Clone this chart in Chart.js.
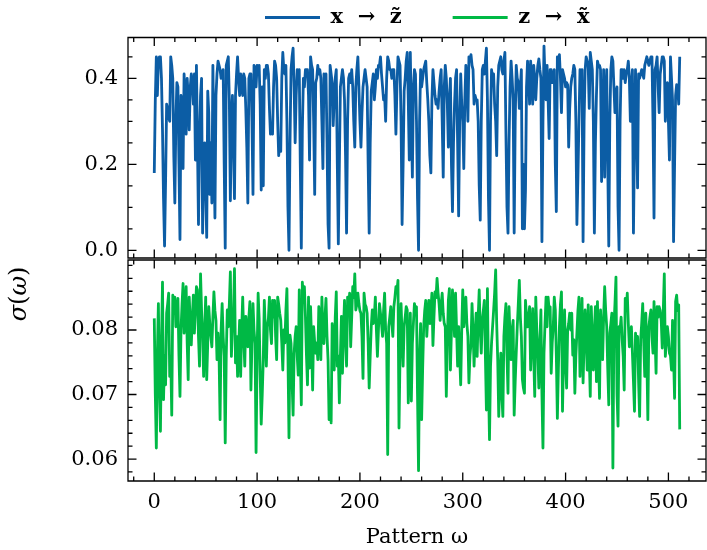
<!DOCTYPE html>
<html>
<head>
<meta charset="utf-8">
<script src="https://cdn.jsdelivr.net/npm/chart.js@4.4.1/dist/chart.umd.min.js"></script>
<style>
  html, body { margin: 0; padding: 0; background: #fff; }
  #wrap { width: 707px; height: 550px; }
</style>
</head>
<body>
<div id="wrap"><canvas id="c" width="707" height="550"></canvas></div>
<script>
// ---------- data ----------
const patternIds = Array.from({length: 512}, (_, i) => i);

const sigmaXtoZ = [
0.18,0.35,0.45,0.36,0.44,0.45,0.45,0.40,0.28,0.12,
0.01,0.16,0.34,0.33,0.31,0.30,0.45,0.43,0.40,0.22,
0.11,0.30,0.39,0.38,0.20,0.025,0.36,0.33,0.19,0.41,
0.35,0.27,0.40,0.36,0.28,0.38,0.41,0.39,0.34,0.41,
0.21,0.43,0.25,0.06,0.25,0.36,0.40,0.04,0.20,0.25,
0.14,0.03,0.37,0.32,0.13,0.25,0.11,0.43,0.24,0.075,
0.36,0.41,0.44,0.43,0.42,0.40,0.41,0.42,0.20,0.005,
0.43,0.44,0.45,0.35,0.115,0.30,0.36,0.25,0.12,0.36,
0.41,0.45,0.40,0.36,0.41,0.39,0.36,0.41,0.40,0.33,
0.24,0.11,0.40,0.41,0.41,0.30,0.13,0.43,0.42,0.38,
0.43,0.42,0.43,0.34,0.14,0.38,0.15,0.42,0.40,0.43,
0.43,0.41,0.33,0.27,0.28,0.27,0.38,0.44,0.43,0.40,
0.30,0.22,0.25,0.23,0.40,0.46,0.42,0.41,0.43,0.30,
0.10,0.0,0.25,0.42,0.45,0.47,0.38,0.25,0.36,0.42,
0.41,0.42,0.20,0.005,0.28,0.40,0.38,0.42,0.42,0.42,
0.36,0.21,0.45,0.43,0.42,0.30,0.13,0.39,0.40,0.43,
0.41,0.42,0.40,0.30,0.19,0.41,0.40,0.41,0.25,0.06,
0.005,0.43,0.41,0.39,0.29,0.35,0.40,0.42,0.20,0.015,
0.20,0.38,0.40,0.42,0.40,0.35,0.22,0.04,0.30,0.40,
0.41,0.39,0.42,0.38,0.30,0.24,0.38,0.42,0.45,0.38,
0.30,0.24,0.32,0.38,0.40,0.42,0.40,0.38,0.20,0.04,
0.25,0.37,0.39,0.41,0.35,0.38,0.42,0.40,0.43,0.43,
0.45,0.41,0.38,0.35,0.36,0.30,0.40,0.45,0.44,0.42,
0.42,0.40,0.42,0.42,0.36,0.27,0.38,0.45,0.44,0.43,
0.30,0.06,0.20,0.37,0.40,0.44,0.46,0.35,0.21,0.46,
0.30,0.17,0.38,0.42,0.41,0.30,0.12,0.0,0.30,0.42,
0.38,0.40,0.42,0.43,0.44,0.39,0.35,0.30,0.22,0.18,
0.35,0.42,0.39,0.36,0.34,0.35,0.33,0.37,0.40,0.42,
0.30,0.17,0.38,0.43,0.40,0.34,0.24,0.35,0.40,0.20,
0.09,0.25,0.34,0.40,0.42,0.25,0.08,0.30,0.41,0.34,
0.30,0.19,0.35,0.43,0.38,0.30,0.45,0.44,0.455,0.43,
0.42,0.34,0.36,0.35,0.35,0.30,0.15,0.07,0.30,0.42,
0.43,0.41,0.44,0.47,0.35,0.12,0.0,0.30,0.42,0.40,
0.41,0.34,0.30,0.22,0.38,0.43,0.44,0.45,0.42,0.41,
0.44,0.46,0.27,0.10,0.04,0.25,0.38,0.44,0.40,0.35,
0.04,0.30,0.43,0.40,0.39,0.33,0.38,0.42,0.05,0.20,
0.05,0.14,0.38,0.44,0.40,0.34,0.44,0.40,0.34,0.43,
0.40,0.35,0.40,0.43,0.445,0.42,0.40,0.02,0.30,0.475,
0.40,0.35,0.43,0.35,0.26,0.42,0.42,0.39,0.40,0.42,
0.20,0.09,0.45,0.44,0.455,0.40,0.32,0.42,0.41,0.40,
0.38,0.39,0.385,0.24,0.33,0.38,0.40,0.41,0.43,0.42,
0.30,0.06,0.17,0.30,0.42,0.41,0.42,0.02,0.30,0.42,
0.45,0.44,0.43,0.33,0.46,0.44,0.42,0.30,0.04,0.25,
0.36,0.44,0.43,0.43,0.42,0.16,0.30,0.42,0.17,0.35,
0.42,0.20,0.01,0.30,0.42,0.45,0.44,0.38,0.32,0.36,
0.38,0.10,0.0,0.30,0.42,0.42,0.40,0.42,0.39,0.41,
0.42,0.44,0.40,0.30,0.38,0.42,0.04,0.25,0.42,0.30,
0.145,0.41,0.40,0.41,0.42,0.41,0.40,0.43,0.44,0.45,
0.44,0.43,0.44,0.45,0.45,0.30,0.075,0.42,0.43,0.45,
0.38,0.32,0.41,0.43,0.45,0.45,0.44,0.30,0.36,0.39,
0.30,0.21,0.45,0.40,0.35,0.02,0.20,0.36,0.385,0.38,
0.34,0.45
];

const sigmaZtoX = [
0.0818,0.0700,0.0617,0.0760,0.0841,0.0715,0.0643,0.0780,0.0874,0.0692,
0.0760,0.0715,0.0826,0.0840,0.0857,0.0728,0.0760,0.0668,0.0854,0.0830,
0.0851,0.0805,0.0830,0.0849,0.0760,0.0697,0.0800,0.0840,0.0872,0.0795,
0.0830,0.0867,0.0780,0.0723,0.0851,0.0810,0.0777,0.0820,0.0854,0.0795,
0.0830,0.0867,0.0862,0.0790,0.0744,0.0887,0.0830,0.0790,0.0728,0.0800,
0.0851,0.0723,0.0780,0.0836,0.0810,0.0790,0.0774,0.0820,0.0859,0.0830,
0.0815,0.0754,0.0795,0.0760,0.0661,0.0800,0.0841,0.0790,0.0759,0.0625,
0.0760,0.0831,0.0805,0.0840,0.0890,0.0759,0.0800,0.0823,0.0895,0.0749,
0.0790,0.0728,0.0770,0.0815,0.0728,0.0800,0.0851,0.0790,0.0744,0.0821,
0.0800,0.0774,0.0820,0.0844,0.0707,0.0780,0.0841,0.0800,0.0779,0.0610,
0.0760,0.0857,0.0818,0.0730,0.0654,0.0700,0.0754,0.0846,0.0800,0.0744,
0.0805,0.0818,0.0851,0.0800,0.0779,0.0846,0.0820,0.0846,0.0790,0.0754,
0.0851,0.0840,0.0826,0.0815,0.0780,0.0738,0.0800,0.0780,0.0830,0.0864,
0.0760,0.0633,0.0792,0.0779,0.0720,0.0668,0.0764,0.0790,0.0805,0.0760,
0.0730,0.0862,0.0760,0.0684,0.0874,0.0850,0.0867,0.0821,0.0760,0.0715,
0.0851,0.0741,0.0836,0.0780,0.0707,0.0805,0.0780,0.0764,0.0780,0.0754,
0.0836,0.0800,0.0754,0.0851,0.0800,0.0779,0.0820,0.0849,0.0790,0.0754,
0.0661,0.0700,0.0656,0.0810,0.0780,0.0738,0.0820,0.0859,0.0744,0.0760,
0.0687,0.0760,0.0821,0.0733,0.0800,0.0846,0.0790,0.0744,0.0851,0.0830,
0.0857,0.0774,0.0820,0.0867,0.0850,0.0887,0.0831,0.0840,0.0857,0.0841,
0.0830,0.0826,0.0790,0.0725,0.0857,0.0840,0.0836,0.0826,0.0780,0.0710,
0.0760,0.0805,0.0831,0.0810,0.0821,0.0851,0.0800,0.0759,0.0800,0.0841,
0.0826,0.0810,0.0790,0.0830,0.0857,0.0800,0.0779,0.0607,0.0805,0.0820,
0.0836,0.0810,0.0790,0.0836,0.0850,0.0867,0.0860,0.0877,0.0648,0.0760,
0.0841,0.0790,0.0744,0.0805,0.0820,0.0836,0.0831,0.0687,0.0754,0.0826,
0.0690,0.0779,0.0810,0.0841,0.0830,0.0836,0.0700,0.0582,0.0760,0.0810,
0.0661,0.0740,0.0805,0.0830,0.0846,0.0790,0.0820,0.0846,0.0810,0.0830,
0.0857,0.0776,0.0820,0.0859,0.0850,0.0880,0.0857,0.0840,0.0815,0.0840,
0.0857,0.0826,0.0810,0.0805,0.0697,0.0780,0.0846,0.0864,0.0738,0.0800,
0.0862,0.0830,0.0790,0.0857,0.0800,0.0744,0.0805,0.0760,0.0715,0.0800,
0.0862,0.0805,0.0830,0.0851,0.0810,0.0790,0.0718,0.0760,0.0779,0.0841,
0.0800,0.0744,0.0790,0.0826,0.0759,0.0820,0.0862,0.0800,0.0764,0.0815,
0.0830,0.0846,0.0760,0.0676,0.0864,0.0720,0.0630,0.0744,0.0780,0.0805,
0.0830,0.0857,0.0893,0.0810,0.0754,0.0666,0.0720,0.0764,0.0700,0.0666,
0.0790,0.0820,0.0841,0.0760,0.0702,0.0836,0.0790,0.0754,0.0800,0.0815,
0.0668,0.0720,0.0764,0.0805,0.0840,0.0877,0.0820,0.0790,0.0723,0.0710,
0.0702,0.0846,0.0820,0.0805,0.0820,0.0836,0.0738,0.0790,0.0833,0.0760,
0.0697,0.0851,0.0800,0.0764,0.0710,0.0780,0.0831,0.0700,0.0617,0.0764,
0.0810,0.0851,0.0805,0.0851,0.0831,0.0836,0.0733,0.0780,0.0805,0.0851,
0.0831,0.0760,0.0663,0.0740,0.0805,0.0840,0.0859,0.0674,0.0760,0.0831,
0.0750,0.0710,0.0800,0.0810,0.0826,0.0800,0.0826,0.0761,0.0785,0.0702,
0.0760,0.0795,0.0830,0.0851,0.0728,0.0800,0.0849,0.0718,0.0780,0.0831,
0.0790,0.0738,0.0839,0.0760,0.0697,0.0836,0.0780,0.0738,0.0800,0.0836,
0.0720,0.0844,0.0760,0.0694,0.0831,0.0790,0.0754,0.0820,0.0867,0.0830,
0.0805,0.0740,0.0684,0.0795,0.0810,0.0826,0.0586,0.0805,0.0840,0.0882,
0.0700,0.0651,0.0805,0.0800,0.0820,0.0785,0.0760,0.0707,0.0849,0.0830,
0.0857,0.0810,0.0774,0.0790,0.0805,0.0764,0.0720,0.0674,0.0795,0.0780,
0.0790,0.0720,0.0666,0.0785,0.0810,0.0841,0.0780,0.0728,0.0826,0.0760,
0.0661,0.0805,0.0820,0.0831,0.0790,0.0764,0.0844,0.0790,0.0733,0.0836,
0.0820,0.0836,0.0830,0.0815,0.0772,0.0830,0.0887,0.0759,0.0780,0.0805,
0.0790,0.0764,0.0760,0.0738,0.0815,0.0760,0.0694,0.0844,0.0854,0.0830,
0.0839,0.0646
];

const seriesLabels = ['x  \u2192  z\u0303      ', 'z  \u2192  x\u0303'];

const xTickValues = [0, 100, 200, 300, 400, 500];
const xTickLabels = ['0', '100', '200', '300', '400', '500'];
const xMinorTicks = [-20, 20, 40, 60, 80, 120, 140, 160, 180, 220, 240, 260, 280,
                     320, 340, 360, 380, 420, 440, 460, 480, 520];

const topTickValues = [0.0, 0.2, 0.4];
const topTickLabels = ['0.0', '0.2', '0.4'];
const topMinorTicks = [0.05, 0.1, 0.15, 0.25, 0.3, 0.35, 0.45];

const bottomTickValues = [0.06, 0.07, 0.08];
const bottomTickLabels = ['0.06', '0.07', '0.08'];
const bottomMinorTicks = [0.058, 0.062, 0.064, 0.066, 0.068, 0.072, 0.074, 0.076, 0.078,
                          0.082, 0.084, 0.086, 0.088, 0.090];

// ---------- styling ----------
const BLUE = '#0C5DA5';
const GREEN = '#00B945';
const FONT = 'DejaVu Serif';
const MAJOR_LEN = 8.5, MINOR_LEN = 4.5;
const LEGEND_START = 265;

Chart.defaults.font.family = FONT;
Chart.defaults.font.size = 21;
Chart.defaults.color = '#000';

const decor = {
  id: 'decor',
  afterLayout(chart) {
    const L = chart.legend;
    if (!L) return;
    const w = L.right - L.left;
    const pad = chart.options.plugins.legend.labels.padding;
    L.left = LEGEND_START - pad;
    L.right = L.left + w;
  },
  afterDatasetsDraw(chart) {
    const {ctx, chartArea: ca, scales} = chart;
    const sx = scales.x;
    const panels = [
      {s: scales.y,  top: scales.y.top + 0.5, bottom: scales.y.bottom - 1, majors: topTickValues, minors: topMinorTicks},
      {s: scales.y2, top: scales.y2.top + 1, bottom: scales.y2.bottom, majors: bottomTickValues, minors: bottomMinorTicks}
    ];
    ctx.save();
    ctx.strokeStyle = '#000';
    ctx.lineWidth = 1.3;
    const seg = (a, b, c, d) => { ctx.moveTo(a, b); ctx.lineTo(c, d); };
    panels.forEach(p => {
      ctx.beginPath();
      ctx.rect(ca.left, p.top, ca.right - ca.left, p.bottom - p.top);
      const xt = (vals, len) => vals.forEach(v => {
        const px = sx.getPixelForValue(v);
        seg(px, p.top, px, p.top + len);
        seg(px, p.bottom, px, p.bottom - len);
      });
      const yt = (vals, len) => vals.forEach(v => {
        const py = p.s.getPixelForValue(v);
        seg(ca.left, py, ca.left + len, py);
        seg(ca.right, py, ca.right - len, py);
      });
      xt(xTickValues, MAJOR_LEN);
      xt(xMinorTicks, MINOR_LEN);
      yt(p.majors, MAJOR_LEN);
      yt(p.minors, MINOR_LEN);
      ctx.stroke();
    });
    ctx.restore();
  },
  afterDraw(chart) {
    const ctx = chart.ctx;
    const parts = [['\u03C3', 'italic'], ['(', 'normal'], ['\u03C9', 'italic'], [')', 'normal']];
    ctx.save();
    ctx.translate(20, 294);
    ctx.rotate(-Math.PI / 2);
    ctx.fillStyle = '#000';
    ctx.textBaseline = 'middle';
    ctx.textAlign = 'left';
    let total = 0;
    const widths = parts.map(([t, st]) => {
      ctx.font = `${st} 24px "${FONT}"`;
      const w = ctx.measureText(t).width;
      total += w;
      return w;
    });
    let cx = -total / 2;
    parts.forEach(([t, st], i) => {
      ctx.font = `${st} 24px "${FONT}"`;
      ctx.fillText(t, cx, 0);
      cx += widths[i];
    });
    ctx.restore();
  }
};

const toPoints = vals => patternIds.map((p, k) => ({x: p, y: vals[k]}));

new Chart(document.getElementById('c'), {
  type: 'line',
  data: {
    datasets: [
      {
        label: seriesLabels[0],
        data: toPoints(sigmaXtoZ),
        xAxisID: 'x', yAxisID: 'y',
        borderColor: BLUE, backgroundColor: BLUE,
        borderWidth: 2.8, pointRadius: 0, tension: 0,
        borderJoinStyle: 'round'
      },
      {
        label: seriesLabels[1],
        data: toPoints(sigmaZtoX),
        xAxisID: 'x', yAxisID: 'y2',
        borderColor: GREEN, backgroundColor: GREEN,
        borderWidth: 2.8, pointRadius: 0, tension: 0,
        borderJoinStyle: 'round'
      }
    ]
  },
  options: {
    responsive: false,
    animation: false,
    devicePixelRatio: 1,
    layout: {padding: {left: 0, right: 1, top: 0, bottom: 0}},
    plugins: {
      legend: {
        position: 'top',
        align: 'start',
        maxHeight: 37,
        labels: {
          usePointStyle: true,
          pointStyle: 'line',
          pointStyleWidth: 55,
          padding: 7,
          color: '#000',
          font: {family: FONT, size: 21, weight: 'bold'}
        }
      },
      tooltip: {enabled: false}
    },
    scales: {
      x: {
        type: 'linear',
        position: 'bottom',
        min: -25.55, max: 536.55,
        grid: {display: false, drawTicks: false},
        border: {display: false},
        afterBuildTicks: s => { s.ticks = xTickValues.map(v => ({value: v})); },
        ticks: {padding: 9, maxRotation: 0, autoSkip: false, callback: (v, i) => xTickLabels[i]},
        title: {display: true, text: 'Pattern \u03C9', padding: {top: 0, bottom: 0}, font: {family: FONT, size: 21}},
        afterFit: s => { s.height = 69; }
      },
      y2: {
        type: 'linear',
        position: 'left',
        stack: 'panels',
        stackWeight: 1,
        min: 0.0566, max: 0.0910,
        grid: {display: false, drawTicks: false},
        border: {display: false},
        afterBuildTicks: s => { s.ticks = bottomTickValues.map(v => ({value: v})); },
        ticks: {padding: 10, autoSkip: false, callback: (v, i) => bottomTickLabels[i]},
        afterFit: s => { s.width = 128; }
      },
      y: {
        type: 'linear',
        position: 'left',
        stack: 'panels',
        stackWeight: 1,
        min: -0.0202, max: 0.496,
        grid: {display: false, drawTicks: false},
        border: {display: false},
        afterBuildTicks: s => { s.ticks = topTickValues.map(v => ({value: v})); },
        ticks: {padding: 10, autoSkip: false, callback: (v, i) => topTickLabels[i]},
        afterFit: s => { s.width = 128; }
      }
    }
  },
  plugins: [decor]
});
</script>
</body>
</html>
